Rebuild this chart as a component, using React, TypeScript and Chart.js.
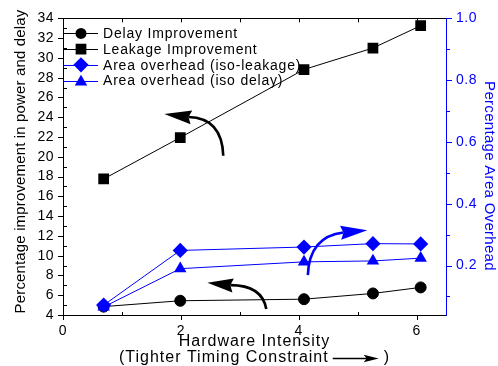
import React, { useEffect, useRef } from 'react';
import { Chart, registerables } from 'chart.js';

Chart.register(...registerables);

// ---- data ----
const xValues = [0.69, 1.99, 4.09, 5.26, 6.07];
const delayImprovement = [4.85, 5.44, 5.6, 6.18, 6.79];
const leakageImprovement = [17.76, 21.95, 28.83, 31.0, 33.26];
const areaIsoLeakage = [0.072, 0.249, 0.26, 0.271, 0.27];
const areaIsoDelay = [0.066, 0.19, 0.212, 0.215, 0.224];

const legendLabels = [
  'Delay Improvement',
  'Leakage Improvement',
  'Area overhead (iso-leakage)',
  'Area overhead (iso delay)',
];
const leftTitle = 'Percentage improvement in power and delay';
const rightTitle = 'Percentage Area Overhead';
const xTitleLine1 = 'Hardware Intensity';
const xTitleLine2Left = '(Tighter Timing Constraint';
const xTitleLine2Right = ')';

const xMajorTicks = [0, 2, 4, 6];
const xMinorTicks = [1, 3, 5];
const xTopTicks = [1, 2, 3, 4, 5, 6];
const leftMajorTicks = [4, 6, 8, 10, 12, 14, 16, 18, 20, 22, 24, 26, 28, 30, 32, 34];
const leftMinorTicks = [5, 7, 9, 11, 13, 15, 17, 19, 21, 23, 25, 27, 29, 31, 33];
const rightMajorTicks = [0.2, 0.4, 0.6, 0.8, 1.0];
const rightMinorTicks = [0.1, 0.3, 0.5, 0.7, 0.9];

// annotation arrows (in x / left-axis units)
const annotationArrows = [
  { color: '#000000', from: [2.72, 20.1], control: [2.7, 23.93], to: [2.13, 24.03], tip: [1.72, 24.33] },
  { color: '#000000', from: [3.45, 4.6], control: [3.38, 7.02], to: [2.84, 7.02], tip: [2.45, 7.25] },
  { color: '#0000ff', from: [4.155, 8.03], control: [4.18, 11.95], to: [4.76, 12.35], tip: [5.165, 12.56] },
];

const FONT = '"Liberation Sans", Arial, Helvetica, sans-serif';
const BLUE = '#0000ff';
const BLACK = '#000000';

const al = (v: number) => Math.round(v) + 0.5;

function drawMarker(ctx: CanvasRenderingContext2D, style: string, x: number, y: number, r: number, color: string) {
  ctx.save();
  ctx.fillStyle = color;
  ctx.beginPath();
  if (style === 'circle') {
    ctx.arc(x, y, r, 0, Math.PI * 2);
  } else if (style === 'rect') {
    const s = r * Math.SQRT1_2;
    ctx.rect(x - s, y - s, 2 * s, 2 * s);
  } else if (style === 'rectRot') {
    ctx.moveTo(x, y - r);
    ctx.lineTo(x + r, y);
    ctx.lineTo(x, y + r);
    ctx.lineTo(x - r, y);
    ctx.closePath();
  } else if (style === 'triangle') {
    let a = 0;
    ctx.moveTo(x + Math.sin(a) * r, y - Math.cos(a) * r);
    a += (2 * Math.PI) / 3;
    ctx.lineTo(x + Math.sin(a) * r, y - Math.cos(a) * r);
    a += (2 * Math.PI) / 3;
    ctx.lineTo(x + Math.sin(a) * r, y - Math.cos(a) * r);
    ctx.closePath();
  }
  ctx.fill();
  ctx.restore();
}

const seriesStyles = [
  { color: BLACK, style: 'circle', r: 5.5 },
  { color: BLACK, style: 'rect', r: 7.6 },
  { color: BLUE, style: 'rectRot', r: 7.6 },
  { color: BLUE, style: 'triangle', r: 7.2 },
];

const decorPlugin = {
  id: 'decor',
  beforeDraw(chart: any) {
    chart.ctx.letterSpacing = '0.5px';
  },
  afterDraw(chart: any) {
    const { ctx, chartArea: a, scales } = chart;
    const x = scales.x;
    const y = scales.y;
    const y1 = scales.y1;
    ctx.save();
    ctx.lineWidth = 1;

    // top border
    ctx.strokeStyle = BLACK;
    ctx.beginPath();
    ctx.moveTo(a.left, al(a.top));
    ctx.lineTo(a.right, al(a.top));
    ctx.stroke();

    // tick marks
    const seg = (x0: number, y0: number, x1: number, y1p: number) => {
      ctx.beginPath();
      ctx.moveTo(x0, y0);
      ctx.lineTo(x1, y1p);
      ctx.stroke();
    };
    xMajorTicks.forEach((v) => {
      const p = al(x.getPixelForValue(v));
      seg(p, a.bottom, p, a.bottom + 5);
    });
    xMinorTicks.forEach((v) => {
      const p = al(x.getPixelForValue(v));
      seg(p, a.bottom, p, a.bottom - 3);
    });
    xTopTicks.forEach((v) => {
      const p = al(x.getPixelForValue(v));
      seg(p, a.top, p, a.top + 4);
    });
    leftMajorTicks.forEach((v) => {
      const p = al(y.getPixelForValue(v));
      seg(a.left - 5, p, a.left + 1, p);
    });
    leftMinorTicks.forEach((v) => {
      const p = al(y.getPixelForValue(v));
      seg(a.left, p, a.left + 4, p);
    });
    ctx.strokeStyle = BLUE;
    rightMajorTicks.forEach((v) => {
      const p = al(y1.getPixelForValue(v));
      seg(a.right, p, a.right + 6, p);
    });
    rightMinorTicks.forEach((v) => {
      const p = al(y1.getPixelForValue(v));
      seg(a.right, p, a.right + 4, p);
    });

    // annotation arrows
    annotationArrows.forEach((ar) => {
      const P = (pt: number[]) => [x.getPixelForValue(pt[0]), y.getPixelForValue(pt[1])];
      const f = P(ar.from);
      const c = P(ar.control);
      const t = P(ar.to);
      const tip = P(ar.tip);
      ctx.strokeStyle = ar.color;
      ctx.fillStyle = ar.color;
      ctx.lineWidth = 2.6;
      ctx.beginPath();
      ctx.moveTo(f[0], f[1]);
      ctx.quadraticCurveTo(c[0], c[1], t[0], t[1]);
      ctx.stroke();
      const dx = tip[0] - t[0];
      const dy = tip[1] - t[1];
      const d = Math.hypot(dx, dy);
      const ux = dx / d;
      const uy = dy / d;
      const nx = -uy;
      const ny = ux;
      const L = d * 1.12;
      const W = 7;
      ctx.beginPath();
      ctx.moveTo(tip[0], tip[1]);
      ctx.lineTo(tip[0] - ux * L + nx * W, tip[1] - uy * L + ny * W);
      ctx.lineTo(t[0], t[1]);
      ctx.lineTo(tip[0] - ux * L - nx * W, tip[1] - uy * L - ny * W);
      ctx.closePath();
      ctx.fill();
    });

    // legend
    ctx.lineWidth = 1;
    legendLabels.forEach((lab, i) => {
      const s = seriesStyles[i];
      const ry = a.top + 15 + i * 15.7;
      ctx.strokeStyle = s.color;
      ctx.beginPath();
      ctx.moveTo(a.left, al(ry));
      ctx.lineTo(a.left + 35, al(ry));
      ctx.stroke();
      drawMarker(ctx, s.style, a.left + 18, ry + (s.style === 'triangle' ? 1.5 : 0), s.r, s.color);
      ctx.fillStyle = BLACK;
      ctx.font = `14px ${FONT}`;
      ctx.letterSpacing = '0.8px';
      ctx.textAlign = 'left';
      ctx.textBaseline = 'middle';
      ctx.fillText(lab, a.left + 40, ry + 1);
    });

    // left title
    ctx.save();
    ctx.letterSpacing = '0.15px';
    ctx.font = `15px ${FONT}`;
    ctx.fillStyle = BLACK;
    ctx.textAlign = 'center';
    ctx.textBaseline = 'middle';
    ctx.translate(21, 161.5);
    ctx.rotate(-Math.PI / 2);
    ctx.fillText(leftTitle, 0, 0);
    ctx.restore();

    // right title
    ctx.save();
    ctx.letterSpacing = '0.3px';
    ctx.font = `15px ${FONT}`;
    ctx.fillStyle = BLUE;
    ctx.textAlign = 'center';
    ctx.textBaseline = 'middle';
    ctx.translate(489, 176);
    ctx.rotate(Math.PI / 2);
    ctx.fillText(rightTitle, 0, 0);
    ctx.restore();

    // x title
    const cx = (a.left + a.right) / 2;
    ctx.font = `16px ${FONT}`;
    ctx.letterSpacing = '1px';
    ctx.fillStyle = BLACK;
    ctx.textBaseline = 'middle';
    ctx.textAlign = 'center';
    ctx.fillText(xTitleLine1, cx, 342);
    const w1 = ctx.measureText(xTitleLine2Left).width;
    const w3 = ctx.measureText(xTitleLine2Right).width;
    const arrowLen = 46;
    const total = w1 + 4 + arrowLen + 5 + w3;
    const sx = cx - total / 2;
    ctx.textAlign = 'left';
    ctx.fillText(xTitleLine2Left, sx, 358);
    const ax0 = sx + w1 + 4;
    const ax1 = ax0 + arrowLen;
    const ay = 358.5;
    ctx.strokeStyle = BLACK;
    ctx.lineWidth = 1.6;
    ctx.beginPath();
    ctx.moveTo(ax0, ay);
    ctx.lineTo(ax1 - 10, ay);
    ctx.stroke();
    ctx.beginPath();
    ctx.moveTo(ax1, ay);
    ctx.lineTo(ax1 - 15, ay - 3.8);
    ctx.lineTo(ax1 - 12, ay);
    ctx.lineTo(ax1 - 15, ay + 3.8);
    ctx.closePath();
    ctx.fill();
    ctx.fillText(xTitleLine2Right, ax1 + 5, 358);

    ctx.restore();
  },
};

export default function App() {
  const canvasRef = useRef<HTMLCanvasElement | null>(null);

  useEffect(() => {
    document.body.style.margin = '0';
    const canvas = canvasRef.current;
    if (!canvas) return;
    const pts = (ys: number[]) => xValues.map((v, i) => ({ x: v, y: ys[i] }));
    const tickFont = { family: FONT, size: 14 };
    const chart = new Chart(canvas, {
      type: 'line',
      data: {
        datasets: [
          {
            label: legendLabels[0],
            data: pts(delayImprovement),
            yAxisID: 'y',
            borderColor: BLACK,
            backgroundColor: BLACK,
            borderWidth: 1,
            pointStyle: 'circle',
            pointRadius: 5.5,
            pointBorderWidth: 1,
            tension: 0,
            order: 3,
          },
          {
            label: legendLabels[1],
            data: pts(leakageImprovement),
            yAxisID: 'y',
            borderColor: BLACK,
            backgroundColor: BLACK,
            borderWidth: 1,
            pointStyle: 'rect',
            pointRadius: 7.6,
            pointBorderWidth: 0,
            tension: 0,
            order: 2,
          },
          {
            label: legendLabels[2],
            data: pts(areaIsoLeakage),
            yAxisID: 'y1',
            borderColor: BLUE,
            backgroundColor: BLUE,
            borderWidth: 1,
            pointStyle: 'rectRot',
            pointRadius: 7.6,
            pointBorderWidth: 0,
            tension: 0,
            order: 1,
          },
          {
            label: legendLabels[3],
            data: pts(areaIsoDelay),
            yAxisID: 'y1',
            borderColor: BLUE,
            backgroundColor: BLUE,
            borderWidth: 1,
            pointStyle: 'triangle',
            pointRadius: 7.2,
            pointBorderWidth: 0,
            tension: 0,
            order: 0,
          },
        ],
      },
      options: {
        animation: false,
        responsive: false,
        events: [],
        layout: { padding: { top: 17, left: 0, right: 0, bottom: 0 } },
        plugins: { legend: { display: false }, tooltip: { enabled: false }, title: { display: false } },
        scales: {
          x: {
            type: 'linear',
            position: 'bottom',
            min: 0,
            max: 6.5,
            afterFit: (s: any) => {
              s.height = 51;
            },
            grid: { display: false, drawTicks: false },
            border: { display: true, color: BLACK, width: 1 },
            ticks: {
              stepSize: 2,
              includeBounds: false,
              padding: 8,
              color: BLACK,
              font: tickFont,
              autoSkip: false,
              maxRotation: 0,
            },
          },
          y: {
            type: 'linear',
            position: 'left',
            min: 4,
            max: 34,
            afterFit: (s: any) => {
              s.width = 63;
            },
            grid: { display: false, drawTicks: false },
            border: { display: true, color: BLACK, width: 1 },
            ticks: { stepSize: 2, padding: 9, color: BLACK, font: tickFont, autoSkip: false },
          },
          y1: {
            type: 'linear',
            position: 'right',
            min: 0.04,
            max: 1.0,
            afterFit: (s: any) => {
              s.width = 52;
            },
            grid: { display: false, drawTicks: false },
            border: { display: true, color: BLUE, width: 1 },
            ticks: {
              stepSize: 0.2,
              includeBounds: false,
              padding: 10,
              color: BLUE,
              font: tickFont,
              autoSkip: false,
              callback: (v: any) => Number(v).toFixed(1),
            },
          },
        },
      } as any,
      plugins: [decorPlugin],
    });
    return () => chart.destroy();
  }, []);

  return (
    <div style={{ width: 498, height: 366 }}>
      <canvas ref={canvasRef} width={498} height={366} style={{ display: 'block' }} />
    </div>
  );
}
